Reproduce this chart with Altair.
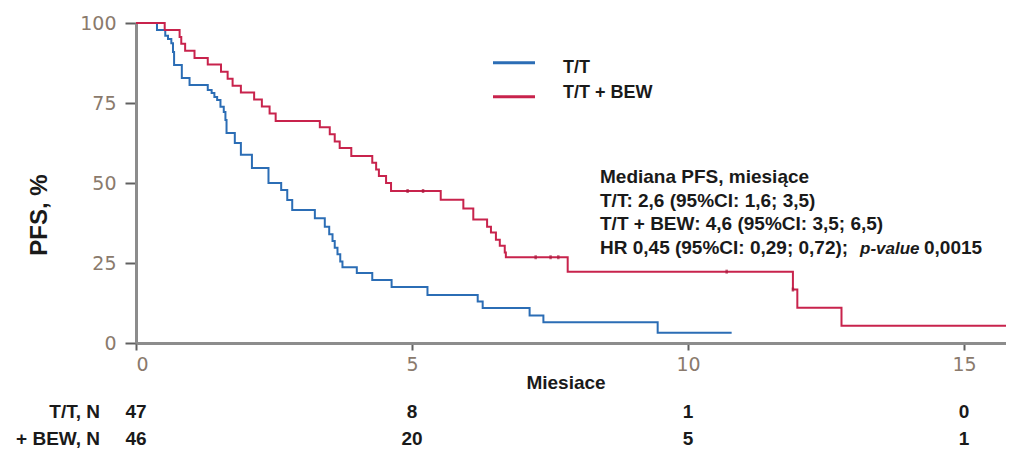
import altair as alt
import pandas as pd

# ---------------- data ----------------
series = ["T/T", "T/T + BEW"]
colors = ["#2b6db5", "#c8234c"]

tt_time = [0, 0.38, 0.53, 0.58, 0.64, 0.67, 0.69, 0.83, 0.97, 1.30, 1.37, 1.42, 1.47,
           1.53, 1.59, 1.62, 1.64, 1.79, 1.90, 2.10, 2.40, 2.63, 2.74, 2.83, 3.24,
           3.42, 3.50, 3.56, 3.60, 3.65, 3.70, 3.74, 4.00, 4.28, 4.63, 5.28, 6.19,
           6.28, 7.13, 7.38, 9.45, 10.79]
tt_surv = [100, 97.8, 96.0, 95.0, 93.7, 90.9, 86.9, 82.8, 80.6, 79.1, 78.1, 76.9, 75.9,
           73.8, 72.2, 69.7, 65.6, 62.5, 58.8, 54.7, 50.0, 47.8, 44.7, 41.6, 39.0,
           36.3, 34.0, 31.9, 29.8, 27.7, 25.5, 23.7, 21.9, 19.7, 17.5, 15.0, 13.0,
           10.9, 8.6, 6.5, 3.2, 3.2]

bew_time = [0, 0.52, 0.79, 0.82, 0.89, 1.06, 1.30, 1.54, 1.66, 1.75, 1.90, 2.14, 2.28,
            2.42, 2.53, 3.33, 3.51, 3.60, 3.69, 3.90, 4.28, 4.35, 4.40, 4.53, 4.62,
            5.52, 5.93, 6.11, 6.36, 6.43, 6.52, 6.59, 6.68, 6.70, 7.82, 11.90, 11.98,
            12.78, 15.76]
bew_surv = [100, 97.8, 95.6, 93.5, 91.3, 89.1, 87.0, 84.8, 82.6, 80.4, 78.3, 76.1, 73.9,
            71.7, 69.4, 67.4, 65.2, 63.0, 60.9, 58.4, 56.3, 54.2, 52.2, 50.0, 47.5,
            44.8, 42.0, 38.6, 36.3, 34.5, 32.3, 30.4, 28.3, 26.8, 22.3, 16.7, 11.0,
            5.4, 5.4]

bew_cens_time = [4.92, 5.20, 7.24, 7.51, 7.65, 10.70, 11.90]
bew_cens_surv = [47.5, 47.5, 26.8, 26.8, 26.8, 22.3, 16.7]

risk_time = [0, 5, 10, 15]
risk_tt = [47, 8, 1, 0]
risk_bew = [46, 20, 5, 1]
risk_labels = ["T/T, N", "+ BEW, N"]

x_ticks = [0, 5, 10, 15]
y_ticks = [0, 25, 50, 75, 100]

ann_lines = ["Mediana PFS, miesiące",
             "T/T: 2,6 (95%CI: 1,6; 3,5)",
             "T/T + BEW: 4,6 (95%CI: 3,5; 6,5)",
             "HR 0,45 (95%CI: 0,29; 0,72);"]
ann_italic = "p-value"
ann_tail = "0,0015"

x_title = "Miesiace"
y_title = "PFS, %"

# ---------------- layout ----------------
W, H = 870, 320
XMAX = 15.76
FONT = "Liberation Sans"
TICKFONT = "DejaVu Sans"
TICKCOLOR = "#8a7a6c"

curves = pd.concat([
    pd.DataFrame({"t": tt_time, "s": tt_surv, "g": series[0]}),
    pd.DataFrame({"t": bew_time, "s": bew_surv, "g": series[1]}),
])
cens = pd.DataFrame({"t": bew_cens_time, "s": bew_cens_surv})

xenc = alt.X("t:Q",
             scale=alt.Scale(domain=[0, XMAX], nice=False, zero=True),
             axis=alt.Axis(values=x_ticks, title=None, grid=False, format="d",
                           domainColor="#8c8c8c", domainWidth=3,
                           tickColor="#606060", tickSize=7, tickWidth=2,
                           labelColor=TICKCOLOR, labelFont=TICKFONT,
                           labelFontSize=19, labelPadding=5))
yenc = alt.Y("s:Q",
             scale=alt.Scale(domain=[0, 100], nice=False),
             axis=alt.Axis(values=y_ticks, title=None, grid=False, format="d",
                           domainColor="#8c8c8c", domainWidth=3,
                           tickColor="#606060", tickSize=11, tickWidth=2,
                           labelColor=TICKCOLOR, labelFont=TICKFONT,
                           labelFontSize=19, labelPadding=9))
cenc = alt.Color("g:N", scale=alt.Scale(domain=series, range=colors), legend=None)

lines = alt.Chart(curves).mark_line(interpolate="step-after", strokeWidth=2).encode(
    x=xenc, y=yenc, color=cenc, detail="g:N", order="t:Q")

ticks = alt.Chart(cens).mark_tick(orient="vertical", size=4, thickness=2.5,
                                  color="#a8183c").encode(x="t:Q", y="s:Q")

one = pd.DataFrame({"a": [0]})

def txt(text, x, y, size, weight="bold", align="left", baseline="alphabetic",
        style="normal", angle=0, font=FONT, color="#1a1a1a"):
    return alt.Chart(one).mark_text(text=text, fontSize=size, fontWeight=weight,
                                    align=align, baseline=baseline, fontStyle=style,
                                    angle=angle, font=font, color=color).encode(
        x=alt.value(x), y=alt.value(y))

layers = [lines, ticks]

# legend
leg_y_line = [39.7, 73.7]
leg_y_text = [50.3, 75.3]
for i, name in enumerate(series):
    layers.append(alt.Chart(one).mark_rule(strokeWidth=3, color=colors[i]).encode(
        x=alt.value(357), x2=alt.value(399), y=alt.value(leg_y_line[i])))
    layers.append(txt(name, 427, leg_y_text[i], 18))

# annotation block
ann_base = [160, 183.5, 207, 230.5]
for line, yb in zip(ann_lines, ann_base):
    layers.append(txt(line, 464, yb, 19))
layers.append(txt(ann_italic, 724, ann_base[3], 17, style="italic"))
layers.append(txt(ann_tail, 788, ann_base[3], 19))

# axis titles
layers.append(txt(y_title, -96, 192, 24, align="center", baseline="middle", angle=270))
layers.append(txt(x_title, 430, 360, 19, align="center", baseline="middle"))

# number at risk
risk = pd.DataFrame({"t": risk_time, "tt": risk_tt, "bew": risk_bew})
row_y = [389, 416]
for col, yv, lab in zip(["tt", "bew"], row_y, risk_labels):
    layers.append(alt.Chart(risk).mark_text(fontSize=19, fontWeight="bold", font=FONT,
                                            color="#1a1a1a", baseline="middle").encode(
        x=alt.X("t:Q"), y=alt.value(yv), text=alt.Text(f"{col}:Q")))
    layers.append(txt(lab, -36, yv, 19, align="right", baseline="middle"))

chart = alt.layer(*layers).properties(
    width=W, height=H,
    autosize=alt.AutoSizeParams(type="none"),
    padding={"left": 128, "top": 15, "right": 0, "bottom": 106},
).configure_view(stroke=None)

chart.save("out.html", embed_options={"renderer": "svg", "actions": False})
